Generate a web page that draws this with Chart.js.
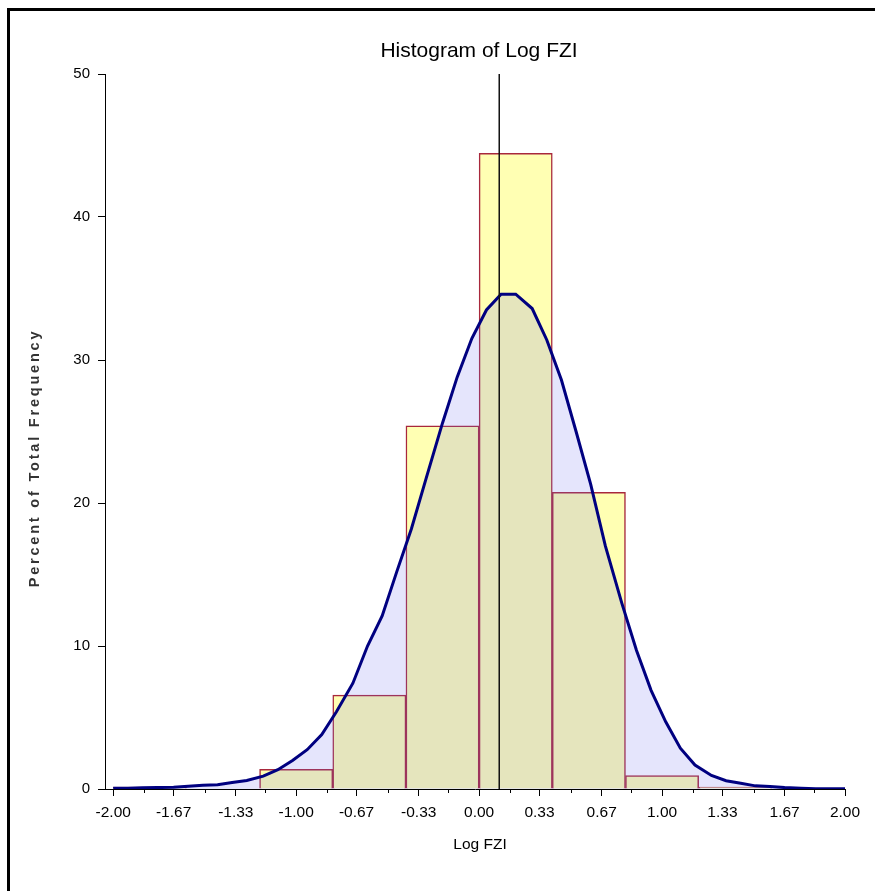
<!DOCTYPE html>
<html>
<head>
<meta charset="utf-8">
<title>Histogram of Log FZI</title>
<script src="https://cdn.jsdelivr.net/npm/chart.js@4.4.1/dist/chart.umd.min.js"></script>
<style>
  html, body { margin: 0; padding: 0; background: #fff; }
  #wrap { position: relative; width: 875px; height: 891px; overflow: hidden; }
  #frame { position: absolute; left: 7px; top: 8px; width: 900px; height: 900px;
           border-left: 3px solid #000; border-top: 3px solid #000; }
  canvas { position: absolute; left: 0; top: 0; }
</style>
</head>
<body>
<div id="wrap">
  <div id="frame"></div>
  <canvas id="histChart" width="875" height="891"></canvas>
</div>
<script>
// === Data ===
const chartTitle = 'Histogram of Log FZI';
const xTitle = 'Log FZI';
const yTitle = 'Percent of Total Frequency';

// histogram bins (centre of each 0.4 wide bin) and percent of total
const binCenters = [-1.8, -1.4, -1.0, -0.6, -0.2, 0.2, 0.6, 1.0, 1.4, 1.8];
const binPercents = [0.14, 0, 1.38, 6.57, 25.4, 44.45, 20.75, 0.93, 0.14, 0];
const binWidth = 0.4;

// fitted density curve
const curveX = [-2.00, -1.92, -1.84, -1.76, -1.67, -1.59, -1.51, -1.43, -1.35, -1.27,
                -1.18, -1.10, -1.02, -0.94, -0.86, -0.78, -0.69, -0.61, -0.53, -0.45,
                -0.37, -0.29, -0.20, -0.12, -0.04, 0.04, 0.12, 0.20, 0.29, 0.37,
                0.45, 0.53, 0.61, 0.69, 0.78, 0.86, 0.94, 1.02, 1.10, 1.18,
                1.27, 1.35, 1.43, 1.51, 1.59, 1.67, 1.76, 1.84, 1.92, 2.00];
const curveY = [0.05, 0.06, 0.08, 0.10, 0.12, 0.20, 0.27, 0.30, 0.45, 0.60,
                0.90, 1.35, 2.00, 2.75, 3.80, 5.40, 7.40, 10.0, 12.1, 15.2,
                18.2, 21.7, 25.6, 28.8, 31.5, 33.5, 34.6, 34.6, 33.6, 31.4,
                28.6, 25.0, 21.3, 17.0, 13.0, 9.7, 6.9, 4.7, 2.85, 1.68,
                0.95, 0.58, 0.40, 0.22, 0.17, 0.10, 0.06, 0.02, 0.01, 0.01];
const meanLogFzi = 0.11;

// axis ticks
const xTickValues = [-2.0, -1.67, -1.33, -1.0, -0.67, -0.33, 0.0, 0.33, 0.67, 1.0, 1.33, 1.67, 2.0];
const xTickLabels = ['-2.00', '-1.67', '-1.33', '-1.00', '-0.67', '-0.33', '0.00', '0.33', '0.67', '1.00', '1.33', '1.67', '2.00'];
const xMinorTicks = [-1.83, -1.5, -1.17, -0.83, -0.5, -0.17, 0.17, 0.5, 0.83, 1.17, 1.5, 1.83];
const yTickValues = [0, 10, 20, 30, 40, 50];

const fontFamily = '"Liberation Sans", Arial, sans-serif';
Chart.defaults.font.family = fontFamily;

// === Titles and minor ticks ===
const decorPlugin = {
  id: 'decor',
  afterDraw(chart) {
    const ctx = chart.ctx;
    const xs = chart.scales.x;
    const area = chart.chartArea;
    ctx.save();
    ctx.strokeStyle = '#000';
    ctx.lineWidth = 1;
    ctx.beginPath();
    xMinorTicks.forEach(v => {
      const px = Math.round(xs.getPixelForValue(v)) + 0.5;
      ctx.moveTo(px, area.bottom);
      ctx.lineTo(px, area.bottom + 4);
    });
    ctx.stroke();

    ctx.fillStyle = '#000';
    ctx.textAlign = 'center';
    ctx.textBaseline = 'alphabetic';
    ctx.font = '21px ' + fontFamily;
    ctx.fillText(chartTitle, 479, 57);
    ctx.font = '15.5px ' + fontFamily;
    ctx.fillText(xTitle, 480, 849);

    ctx.translate(39, 458);
    ctx.rotate(-Math.PI / 2);
    ctx.fillStyle = '#333';
    ctx.font = 'bold 14.5px ' + fontFamily;
    ctx.letterSpacing = '2.8px';
    ctx.fillText(yTitle, 0, 0);
    ctx.restore();
  }
};

const ctx = document.getElementById('histChart').getContext('2d');
const histChart = new Chart(ctx, {
  type: 'bar',
  data: {
    datasets: [
      {
        type: 'line',
        data: [{ x: meanLogFzi, y: 0 }, { x: meanLogFzi, y: 50 }],
        borderColor: '#111',
        borderWidth: 1.5,
        pointRadius: 0,
        fill: false,
        order: 0
      },
      {
        type: 'line',
        data: curveX.map((x, i) => ({ x: x, y: curveY[i] })),
        borderColor: '#000080',
        borderWidth: 3,
        backgroundColor: 'rgba(110, 110, 240, 0.18)',
        fill: 'origin',
        pointRadius: 0,
        tension: 0,
        order: 1
      },
      {
        type: 'bar',
        data: binCenters.map((c, i) => ({ x: c, y: binPercents[i] })),
        backgroundColor: '#FFFFB3',
        borderColor: '#A8283C',
        borderWidth: 1.5,
        barThickness: (c) => {
          const s = c.chart.scales.x;
          return Math.abs(s.getPixelForValue(binWidth) - s.getPixelForValue(0));
        },
        order: 2
      }
    ]
  },
  options: {
    responsive: false,
    animation: false,
    events: [],
    layout: { padding: { left: 0, top: 74, right: 30, bottom: 72 } },
    plugins: {
      legend: { display: false },
      title: { display: false },
      tooltip: { enabled: false }
    },
    scales: {
      x: {
        type: 'linear',
        offset: false,
        min: -2.045,
        max: 2.0,
        afterBuildTicks: axis => { axis.ticks = xTickValues.map(v => ({ value: v })); },
        afterFit: axis => { axis.height = 30; },
        grid: { offset: false, drawOnChartArea: false, tickLength: 7, color: '#000' },
        border: { color: '#000', width: 1 },
        ticks: {
          autoSkip: false,
          maxRotation: 0,
          color: '#000',
          padding: 7,
          font: { size: 15.5 },
          callback: (v, i) => xTickLabels[i]
        }
      },
      y: {
        min: 0,
        max: 50,
        afterBuildTicks: axis => { axis.ticks = yTickValues.map(v => ({ value: v })); },
        afterFit: axis => { axis.width = 105; },
        grid: { drawOnChartArea: false, tickLength: 7, color: '#000' },
        border: { color: '#000', width: 1 },
        ticks: { color: '#000', padding: 8, font: { size: 15 } }
      }
    }
  },
  plugins: [decorPlugin]
});
</script>
</body>
</html>
